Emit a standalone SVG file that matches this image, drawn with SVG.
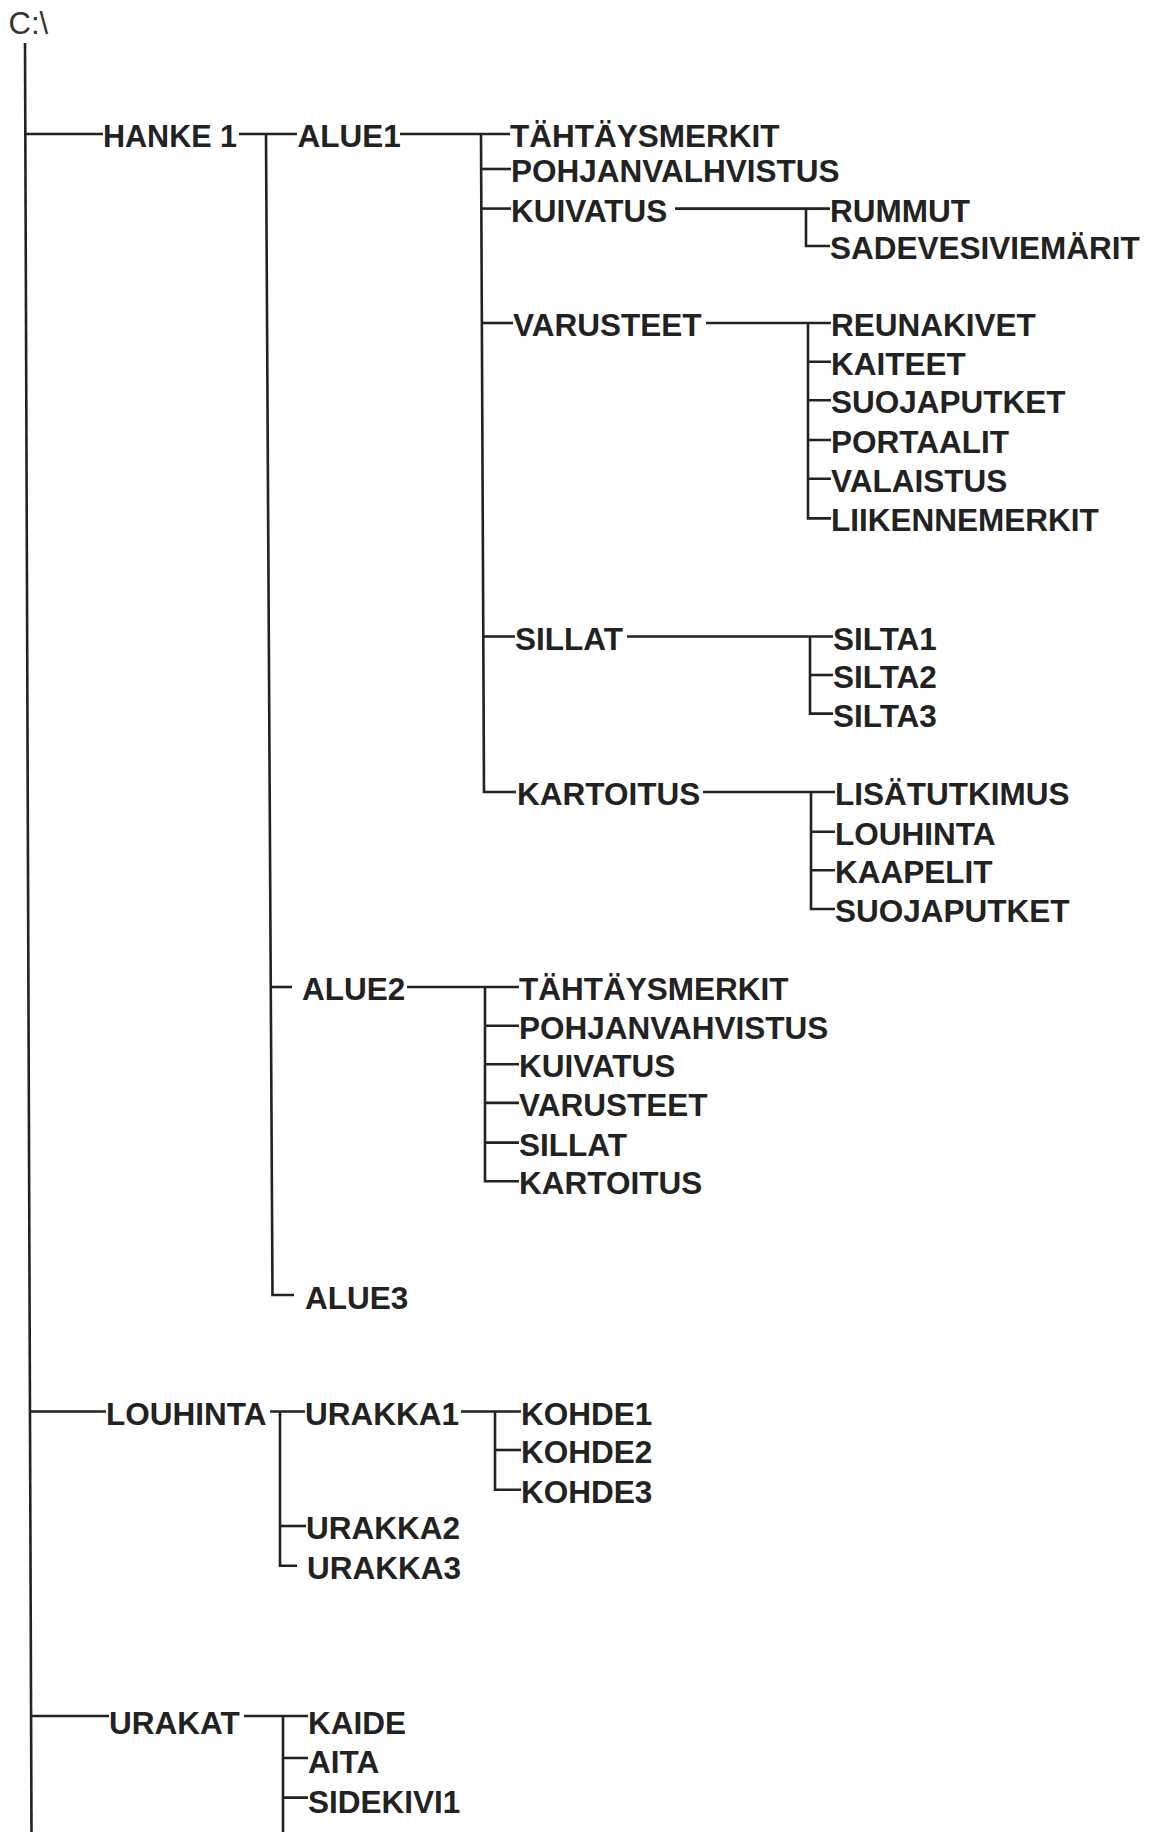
<svg xmlns="http://www.w3.org/2000/svg" width="1156" height="1832" viewBox="0 0 1156 1832">
<style>
.t{font-family:"Liberation Sans",Arial,sans-serif;font-weight:bold;font-size:31.5px;fill:#222}
.r{font-family:"Liberation Sans",Arial,sans-serif;font-size:31px;fill:#333}
.c{fill:none;stroke:#222;stroke-width:2.6}
</style>
<rect width="1156" height="1832" fill="#fff"/>
<g id="connectors" class="c">
<path d="M25,43 L31.5,1832"/>
<path d="M25.3,134 H103"/>
<path d="M239,134 H297"/>
<path d="M266,134 L272.5,1295 H294"/>
<path d="M270.8,987 H292"/>
<path d="M400,134 H510"/>
<path d="M481,134 L484,792 H516"/>
<path d="M481.2,169 H511"/>
<path d="M481.3,208.6 H511"/>
<path d="M481.9,323 H513"/>
<path d="M483.4,636.5 H515"/>
<path d="M675,208.6 H830"/>
<path d="M806,208.6 V246 H830"/>
<path d="M706,323 H831"/>
<path d="M808,323 V518.4 H831"/>
<path d="M808,361.7 H831 M808,400.3 H831 M808,440 H831 M808,478.7 H831"/>
<path d="M627,636.5 H833"/>
<path d="M810,636.5 V713.6 H833"/>
<path d="M810,675 H833"/>
<path d="M703,792 H835"/>
<path d="M811,792 V909 H835"/>
<path d="M811,831.7 H835 M811,870.3 H835"/>
<path d="M407,987 H519"/>
<path d="M485,987 V1181.2 H519"/>
<path d="M485,1025.8 H519 M485,1064.3 H519 M485,1102.9 H519 M485,1142.6 H519"/>
<path d="M30,1411.5 H106"/>
<path d="M270,1411.5 H305"/>
<path d="M280,1411.5 V1565.8 H297"/>
<path d="M280,1526 H306"/>
<path d="M461,1411.5 H521"/>
<path d="M495,1411.5 V1489.8 H521"/>
<path d="M495,1450 H521"/>
<path d="M31.1,1716 H109"/>
<path d="M244,1716 H308"/>
<path d="M283,1716 V1832"/>
<path d="M283,1758 H308 M283,1797.6 H308"/>
</g>
<g id="root"><text class="r" x="8.5" y="33.5">C:\</text></g>
<g id="hanke1"><text class="t" x="103" y="147" textLength="134" lengthAdjust="spacingAndGlyphs">HANKE 1</text></g>
<g id="alue1"><text class="t" x="297.5" y="147">ALUE1</text></g>
<g id="a1-tahtays"><text class="t" x="510" y="147">TÄHTÄYSMERKIT</text></g>
<g id="a1-pohjan"><text class="t" x="511" y="182">POHJANVALHVISTUS</text></g>
<g id="a1-kuivatus"><text class="t" x="511" y="221.6">KUIVATUS</text></g>
<g id="rummut"><text class="t" x="830" y="221.6">RUMMUT</text></g>
<g id="sadevesi"><text class="t" x="830" y="259">SADEVESIVIEMÄRIT</text></g>
<g id="a1-varusteet"><text class="t" x="513" y="336.2">VARUSTEET</text></g>
<g id="reunakivet"><text class="t" x="831" y="336.2">REUNAKIVET</text></g>
<g id="kaiteet"><text class="t" x="831" y="374.7">KAITEET</text></g>
<g id="suojaputket1"><text class="t" x="831" y="413.3">SUOJAPUTKET</text></g>
<g id="portaalit"><text class="t" x="831" y="453">PORTAALIT</text></g>
<g id="valaistus"><text class="t" x="831" y="491.7">VALAISTUS</text></g>
<g id="liikennemerkit"><text class="t" x="831" y="531.4">LIIKENNEMERKIT</text></g>
<g id="a1-sillat"><text class="t" x="515" y="649.5">SILLAT</text></g>
<g id="silta1"><text class="t" x="833" y="649.5">SILTA1</text></g>
<g id="silta2"><text class="t" x="833" y="688">SILTA2</text></g>
<g id="silta3"><text class="t" x="833" y="726.6">SILTA3</text></g>
<g id="a1-kartoitus"><text class="t" x="517" y="805">KARTOITUS</text></g>
<g id="lisatutkimus"><text class="t" x="835" y="805">LISÄTUTKIMUS</text></g>
<g id="k-louhinta"><text class="t" x="835" y="844.7">LOUHINTA</text></g>
<g id="kaapelit"><text class="t" x="835" y="883.3">KAAPELIT</text></g>
<g id="suojaputket2"><text class="t" x="835" y="921.9">SUOJAPUTKET</text></g>
<g id="alue2"><text class="t" x="302" y="1000">ALUE2</text></g>
<g id="a2-tahtays"><text class="t" x="519" y="1000">TÄHTÄYSMERKIT</text></g>
<g id="a2-pohjan"><text class="t" x="519" y="1038.8">POHJANVAHVISTUS</text></g>
<g id="a2-kuivatus"><text class="t" x="519" y="1077.3">KUIVATUS</text></g>
<g id="a2-varusteet"><text class="t" x="519" y="1115.9">VARUSTEET</text></g>
<g id="a2-sillat"><text class="t" x="519" y="1155.6">SILLAT</text></g>
<g id="a2-kartoitus"><text class="t" x="519" y="1194.2">KARTOITUS</text></g>
<g id="alue3"><text class="t" x="305" y="1308.7">ALUE3</text></g>
<g id="louhinta"><text class="t" x="106" y="1424.5">LOUHINTA</text></g>
<g id="urakka1"><text class="t" x="305" y="1424.5">URAKKA1</text></g>
<g id="kohde1"><text class="t" x="521" y="1424.5">KOHDE1</text></g>
<g id="kohde2"><text class="t" x="521" y="1463">KOHDE2</text></g>
<g id="kohde3"><text class="t" x="521" y="1502.8">KOHDE3</text></g>
<g id="urakka2"><text class="t" x="306" y="1539">URAKKA2</text></g>
<g id="urakka3"><text class="t" x="307" y="1578.8">URAKKA3</text></g>
<g id="urakat"><text class="t" x="109" y="1734.3">URAKAT</text></g>
<g id="kaide"><text class="t" x="308" y="1734.3">KAIDE</text></g>
<g id="aita"><text class="t" x="308" y="1772.8">AITA</text></g>
<g id="sidekivi1"><text class="t" x="308" y="1812.6">SIDEKIVI1</text></g>
</svg>
